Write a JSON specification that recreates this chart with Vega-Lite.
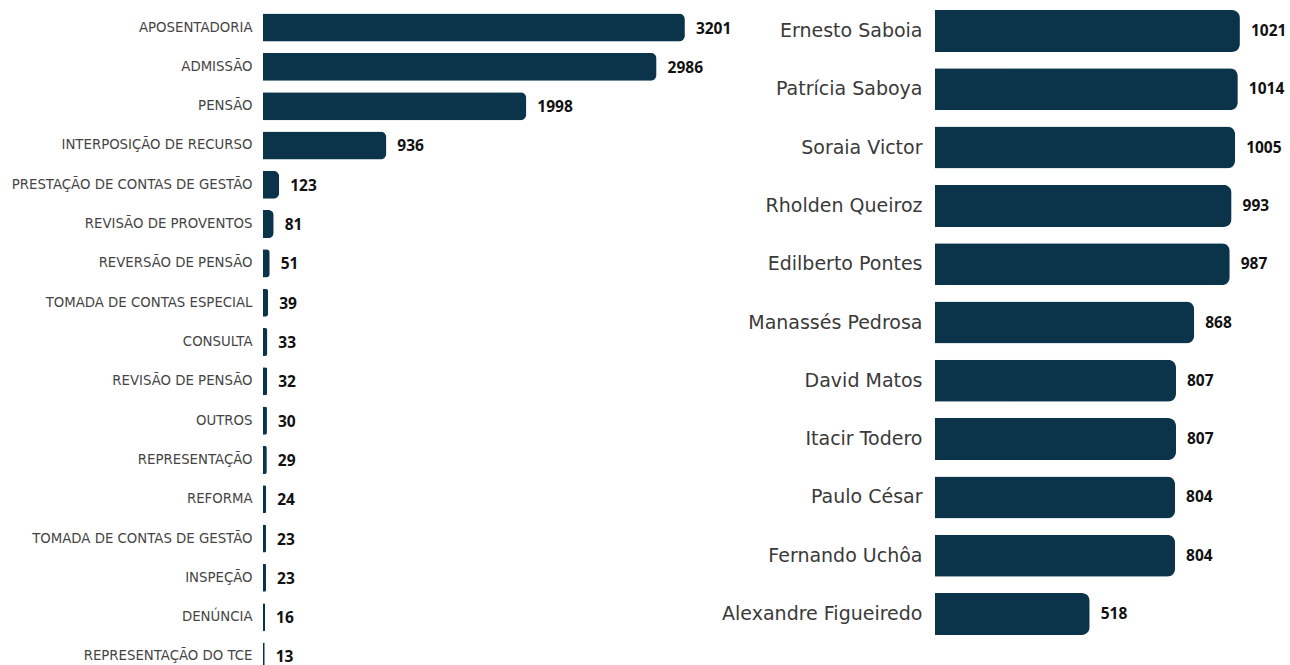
{
  "$schema": "https://vega.github.io/schema/vega-lite/v6.json",
  "autosize": {"type": "pad"},
  "padding": {"left": 11, "top": 0, "right": 0, "bottom": 0},
  "background": "white",
  "bounds": "flush",
  "spacing": 192,
  "config": {"view": {"stroke": null}},
  "datasets": {
    "cat": [
      {"tipo": "APOSENTADORIA", "qtd": 3201},
      {"tipo": "ADMISSÃO", "qtd": 2986},
      {"tipo": "PENSÃO", "qtd": 1998},
      {"tipo": "INTERPOSIÇÃO DE RECURSO", "qtd": 936},
      {"tipo": "PRESTAÇÃO DE CONTAS DE GESTÃO", "qtd": 123},
      {"tipo": "REVISÃO DE PROVENTOS", "qtd": 81},
      {"tipo": "REVERSÃO DE PENSÃO", "qtd": 51},
      {"tipo": "TOMADA DE CONTAS ESPECIAL", "qtd": 39},
      {"tipo": "CONSULTA", "qtd": 33},
      {"tipo": "REVISÃO DE PENSÃO", "qtd": 32},
      {"tipo": "OUTROS", "qtd": 30},
      {"tipo": "REPRESENTAÇÃO", "qtd": 29},
      {"tipo": "REFORMA", "qtd": 24},
      {"tipo": "TOMADA DE CONTAS DE GESTÃO", "qtd": 23},
      {"tipo": "INSPEÇÃO", "qtd": 23},
      {"tipo": "DENÚNCIA", "qtd": 16},
      {"tipo": "REPRESENTAÇÃO DO TCE", "qtd": 13}
    ],
    "rel": [
      {"nome": "Ernesto Saboia", "qtd": 1021},
      {"nome": "Patrícia Saboya", "qtd": 1014},
      {"nome": "Soraia Victor", "qtd": 1005},
      {"nome": "Rholden Queiroz", "qtd": 993},
      {"nome": "Edilberto Pontes", "qtd": 987},
      {"nome": "Manassés Pedrosa", "qtd": 868},
      {"nome": "David Matos", "qtd": 807},
      {"nome": "Itacir Todero", "qtd": 807},
      {"nome": "Paulo César", "qtd": 804},
      {"nome": "Fernando Uchôa", "qtd": 804},
      {"nome": "Alexandre Figueiredo", "qtd": 518}
    ]
  },
  "hconcat": [
    {
      "width": 480,
      "height": 684,
      "data": {"name": "cat"},
      "encoding": {
        "y": {
          "field": "tipo", "type": "nominal", "sort": null, "title": null,
          "scale": {"paddingInner": 0.2875, "paddingOuter": 0.3435},
          "axis": {"domain": false, "ticks": false, "grid": false, "labelPadding": 11,
                   "labelFont": "DejaVu Sans", "labelFontSize": 13.3, "labelColor": "#444444",
                   "labelLimit": 400}
        },
        "x": {"field": "qtd", "type": "quantitative", "axis": null,
              "scale": {"domain": [0, 3642], "nice": false}}
      },
      "layer": [
        {"mark": {"type": "bar", "color": "#0b344b", "cornerRadiusEnd": 6}},
        {"mark": {"type": "text", "align": "left", "baseline": "middle", "dx": 11, "dy": 1,
                  "font": "Open Sans", "fontWeight": "bold", "fontSize": 15.5, "color": "#111111"},
         "encoding": {"text": {"field": "qtd", "type": "quantitative"}}}
      ]
    },
    {
      "width": 350,
      "height": 645,
      "data": {"name": "rel"},
      "encoding": {
        "y": {
          "field": "nome", "type": "nominal", "sort": null, "title": null,
          "scale": {"paddingInner": 0.2796, "paddingOuter": 0.1715},
          "axis": {"domain": false, "ticks": false, "grid": false, "labelPadding": 13,
                   "labelFont": "DejaVu Sans", "labelFontSize": 19, "labelColor": "#3a3a3a",
                   "labelLimit": 400}
        },
        "x": {"field": "qtd", "type": "quantitative", "axis": null,
              "scale": {"domain": [0, 1172], "nice": false}}
      },
      "layer": [
        {"mark": {"type": "bar", "color": "#0b344b", "cornerRadiusEnd": 8}},
        {"mark": {"type": "text", "align": "left", "baseline": "middle", "dx": 11,
                  "font": "Open Sans", "fontWeight": "bold", "fontSize": 15.5, "color": "#111111"},
         "encoding": {"text": {"field": "qtd", "type": "quantitative"}}}
      ]
    }
  ]
}
